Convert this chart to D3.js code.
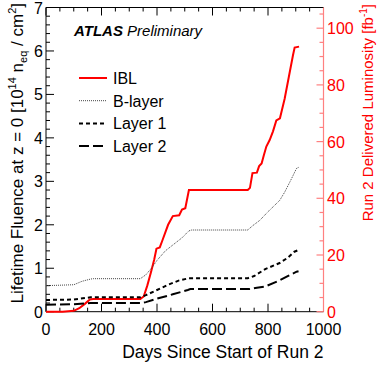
<!DOCTYPE html>
<html>
<head>
<meta charset="utf-8">
<script src="https://cdn.jsdelivr.net/npm/d3@7"></script>
<style>
  body { margin: 0; background: #fff; }
  text { font-family: "Liberation Sans", Arial, sans-serif; }
</style>
</head>
<body>
<div id="container"></div>
<script>
/* DATA */
const seriesNames = ["IBL", "B-layer", "Layer 1", "Layer 2"]

const ibl = [[0,0],[60,0],[100,0.02],[120,0.08],[140,0.18],[158,0.28],[170,0.29],[340,0.29],[352,0.35],
  [365,0.6],[378,0.9],[390,1.2],[398,1.45],[410,1.48],[420,1.65],[440,2.0],[457,2.2],[480,2.22],
  [490,2.35],[502,2.38],[515,2.8],[727,2.8],[735,2.85],[744,3.19],[760,3.2],[768,3.35],[777,3.41],
  [785,3.6],[794,3.8],[806,3.95],[818,4.15],[830,4.4],[843,4.45],[860,4.9],[875,5.4],[890,5.9],
  [896,6.08],[912,6.1]]

const bLayer = [[0,0.6],[100,0.62],[130,0.7],[160,0.75],[170,0.76],[340,0.76],[360,0.85],[380,1.0],
  [400,1.18],[430,1.4],[460,1.55],[490,1.7],[515,1.86],[525,1.88],[727,1.88],[745,1.98],[770,2.1],
  [800,2.3],[842,2.56],[860,2.75],[880,3.0],[903,3.3],[910,3.32]]

const layer1 = [[0,0.27],[100,0.28],[160,0.33],[340,0.33],[360,0.38],[400,0.5],[440,0.62],[480,0.72],
  [515,0.77],[727,0.77],[750,0.82],[790,0.98],[842,1.12],[871,1.24],[895,1.38],[910,1.42]]

const layer2 = [[0,0.16],[100,0.17],[160,0.2],[340,0.2],[360,0.22],[400,0.3],[457,0.4],[511,0.5],
  [520,0.52],[734,0.52],[760,0.55],[790,0.58],[842,0.72],[871,0.82],[903,0.92],[910,0.93]]

const xTicks = [0, 200, 400, 600, 800, 1000]
const yTicks = [0, 1, 2, 3, 4, 5, 6, 7]
const y2Ticks = [0, 20, 40, 60, 80, 100]

/* CONSTANTS */
const width = 377, height = 369
const margin = {top: 7.5, bottom: 57.3, left: 46, right: 53.5}

const xScale = d3.scaleLinear().domain([0, 1000]).range([margin.left, width - margin.right])
const yScale = d3.scaleLinear().domain([0, 7]).range([height - margin.bottom, margin.top])
const y2Scale = d3.scaleLinear().domain([0, 107.3]).range([height - margin.bottom, margin.top])

const svg = d3.select("#container").append("svg")
  .attr("width", width)
  .attr("height", height)

const x0 = margin.left, x1 = width - margin.right
const yb = height - margin.bottom, yt = margin.top

// frame: bottom, top, left
svg.append("path")
  .attr("d", `M${x1},${yb}H${x0}V${yt}H${x1}`)
  .attr("fill", "none").attr("stroke", "#000").attr("stroke-width", 1)

// bottom + top ticks
const xMinor = d3.range(0, 1001, 50)
svg.selectAll(".xt").data(xMinor).join("line")
  .attr("x1", d => xScale(d)).attr("x2", d => xScale(d))
  .attr("y1", yb).attr("y2", d => yb - (d % 200 === 0 ? 8 : 4))
  .attr("stroke", "#000")
svg.selectAll(".xtt").data(xMinor).join("line")
  .attr("x1", d => xScale(d)).attr("x2", d => xScale(d))
  .attr("y1", yt).attr("y2", d => yt + (d % 200 === 0 ? 8 : 4))
  .attr("stroke", "#000")

// left ticks
const yMinor = d3.range(0, 35.5, 1).map(d => d / 5)
svg.selectAll(".yt").data(yMinor).join("line")
  .attr("x1", x0).attr("x2", (d, i) => x0 + (i % 5 === 0 ? 8 : 4))
  .attr("y1", d => yScale(d)).attr("y2", d => yScale(d))
  .attr("stroke", "#000")

// right axis
svg.append("line")
  .attr("x1", x1).attr("x2", x1).attr("y1", yb).attr("y2", yt)
  .attr("stroke", "#ff8080").attr("stroke-width", 1.2)
const y2Minor = d3.range(0, 106, 5)
svg.selectAll(".y2t").data(y2Minor).join("line")
  .attr("x1", x1).attr("x2", d => x1 - (d % 20 === 0 ? 7 : 4))
  .attr("y1", d => y2Scale(d)).attr("y2", d => y2Scale(d))
  .attr("stroke", "#ff8080").attr("stroke-width", 1.2)

// tick labels
svg.selectAll(".xl").data(xTicks).join("text")
  .attr("x", d => xScale(d)).attr("y", 335)
  .attr("text-anchor", "middle").attr("font-size", 16)
  .text(d => d)
svg.selectAll(".yl").data(yTicks).join("text")
  .attr("x", 43).attr("y", d => yScale(d) + 6)
  .attr("text-anchor", "end").attr("font-size", 16)
  .text(d => d)
svg.selectAll(".y2l").data(y2Ticks).join("text")
  .attr("x", 327).attr("y", d => y2Scale(d) + 6)
  .attr("text-anchor", "start").attr("font-size", 16)
  .attr("fill", "#ff0000")
  .text(d => d)

// axis titles
svg.append("text")
  .attr("x", x1).attr("y", 358)
  .attr("text-anchor", "end").attr("font-size", 17.5)
  .text("Days Since Start of Run 2")

const yTitle = svg.append("text")
  .attr("transform", "translate(23,3) rotate(-90)")
  .attr("text-anchor", "end").attr("font-size", 17)
yTitle.append("tspan").text("Lifetime Fluence at z = 0 [10")
yTitle.append("tspan").attr("font-size", 11).attr("dy", -7).text("14")
yTitle.append("tspan").attr("dy", 7).text(" n")
yTitle.append("tspan").attr("font-size", 11).attr("dy", 4).text("eq")
yTitle.append("tspan").attr("dy", -4).text(" / cm")
yTitle.append("tspan").attr("font-size", 11).attr("dy", -7).text("2")
yTitle.append("tspan").attr("dy", 7).text("]")

const y2Title = svg.append("text")
  .attr("transform", "translate(373,4) rotate(-90)")
  .attr("text-anchor", "end").attr("font-size", 15)
  .attr("fill", "#ff0000")
y2Title.append("tspan").text("Run 2 Delivered Luminosity [fb")
y2Title.append("tspan").attr("font-size", 10).attr("dy", -6).text("-1")
y2Title.append("tspan").attr("dy", 6).text("]")

// ATLAS label
const atlas = svg.append("text").attr("x", 74).attr("y", 36).attr("font-size", 15)
atlas.append("tspan").attr("font-weight", "bold").attr("font-style", "italic").text("ATLAS")
atlas.append("tspan").attr("font-style", "italic").text(" Preliminary")

/* LINES */
const styles = [
  {data: ibl, stroke: "#ff0000", width: 2, dash: null},
  {data: bLayer, stroke: "#444", width: 1, dash: "1,1"},
  {data: layer1, stroke: "#000", width: 2, dash: "4,3"},
  {data: layer2, stroke: "#000", width: 2, dash: "10,4"}
]

const line = d3.line().x(d => xScale(d[0])).y(d => yScale(d[1]))

svg.selectAll(".series").data(styles).join("path")
  .attr("d", d => line(d.data))
  .attr("fill", "none")
  .attr("stroke", d => d.stroke)
  .attr("stroke-width", d => d.width)
  .attr("stroke-dasharray", d => d.dash)

// legend
const legend = svg.selectAll(".leg").data(styles).join("g")
  .attr("transform", (d, i) => `translate(79,${78 + i * 22.7})`)
legend.append("line")
  .attr("x1", 0).attr("x2", 28)
  .attr("stroke", d => d.stroke)
  .attr("stroke-width", d => d.width)
  .attr("stroke-dasharray", d => d.dash)
legend.append("text")
  .attr("x", 34).attr("y", 6).attr("font-size", 16)
  .text((d, i) => seriesNames[i])
</script>
</body>
</html>
